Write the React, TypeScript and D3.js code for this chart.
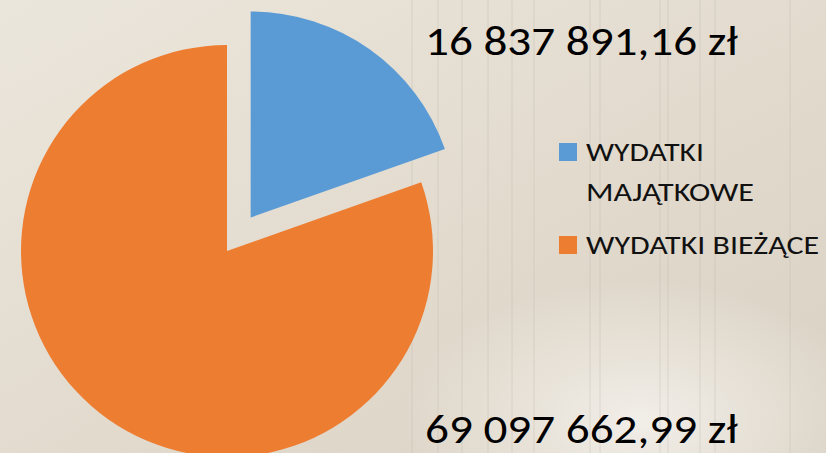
import { useEffect, useRef } from "react";
import * as d3 from "d3";

// wydatki (zł)
const categories = ["WYDATKI MAJĄTKOWE", "WYDATKI BIEŻĄCE"];
const values = [16837891.16, 69097662.99];
const valueLabels = ["16 837 891,16 zł", "69 097 662,99 zł"];
const legendLines = [["WYDATKI", "MAJĄTKOWE"], ["WYDATKI BIEŻĄCE"]];
const colors = ["#5B9BD5", "#ED7D31"];

const W = 826;
const H = 453;

const App = () => {
  const ref = useRef<SVGSVGElement>(null);

  useEffect(() => {
    const svg = d3.select(ref.current);
    svg.selectAll("*").remove();

    const defs = svg.append("defs");
    const bg = defs.append("linearGradient").attr("id", "bg").attr("x1", 0).attr("y1", 0).attr("x2", 1).attr("y2", 1);
    bg.append("stop").attr("offset", "0%").attr("stop-color", "#ebe6dc");
    bg.append("stop").attr("offset", "55%").attr("stop-color", "#e2dacd");
    bg.append("stop").attr("offset", "100%").attr("stop-color", "#d9d1c3");
    const glow = defs.append("radialGradient").attr("id", "glow").attr("cx", 0.5).attr("cy", 0.5).attr("r", 0.5);
    glow.append("stop").attr("offset", "0%").attr("stop-color", "#f4f1ec").attr("stop-opacity", 0.9);
    glow.append("stop").attr("offset", "100%").attr("stop-color", "#f4f1ec").attr("stop-opacity", 0);

    svg.append("rect").attr("width", W).attr("height", H).attr("fill", "url(#bg)");
    svg.append("ellipse").attr("cx", 640).attr("cy", 420).attr("rx", 240).attr("ry", 140).attr("fill", "url(#glow)");

    // faint vertical texture lines
    const lineXs = [412, 438, 462, 488, 512, 534, 590, 600, 660, 668, 700, 715, 790];
    svg.append("g")
      .selectAll("line")
      .data(lineXs)
      .join("line")
      .attr("x1", (d) => d)
      .attr("x2", (d) => d)
      .attr("y1", 0)
      .attr("y2", H)
      .attr("stroke", "#b9b1a5")
      .attr("stroke-opacity", 0.35)
      .attr("stroke-width", 1);

    const cx = 227;
    const cy = 251;
    const r = 206;
    const explode = 41;

    const pie = d3.pie<number>().sort(null).value((d) => d);
    const arcs = pie(values);
    const arc = d3.arc<d3.PieArcDatum<number>>().innerRadius(0).outerRadius(r);

    const g = svg.append("g").attr("transform", `translate(${cx},${cy})`);
    g.selectAll("path")
      .data(arcs)
      .join("path")
      .attr("d", arc)
      .attr("fill", (_, i) => colors[i])
      .attr("transform", (d, i) => {
        if (i !== 0) return null;
        const a = (d.startAngle + d.endAngle) / 2;
        return `translate(${Math.sin(a) * explode},${-Math.cos(a) * explode})`;
      });

    const font = "Carlito, 'Open Sans', 'Noto Sans', sans-serif";

    // value labels
    const labelY = [55, 443];
    svg.append("g")
      .selectAll("text")
      .data(valueLabels)
      .join("text")
      .attr("x", 425)
      .attr("y", (_, i) => labelY[i])
      .attr("font-family", font)
      .attr("font-size", 42)
      .attr("fill", "#000")
      .attr("textLength", 313)
      .attr("lengthAdjust", "spacingAndGlyphs")
      .text((d) => d);

    // legend
    const legY = [143, 236];
    const leg = svg.append("g").selectAll("g").data(categories).join("g");
    leg.append("rect")
      .attr("x", 559)
      .attr("y", (_, i) => legY[i])
      .attr("width", 18)
      .attr("height", 18)
      .attr("fill", (_, i) => colors[i]);
    const lineWidths = [[118, 168], [233]];
    leg.each(function (_, i) {
      const sel = d3.select(this);
      legendLines[i].forEach((t, j) => {
        sel.append("text")
          .attr("x", 586)
          .attr("y", legY[i] + 18 + j * 40)
          .attr("font-family", font)
          .attr("font-size", 26)
          .attr("fill", "#111")
          .attr("textLength", lineWidths[i][j])
          .attr("lengthAdjust", "spacingAndGlyphs")
          .text(t);
      });
    });
  }, []);

  return (
    <svg
      ref={ref}
      width={W}
      height={H}
      style={{ position: "fixed", left: 0, top: 0, display: "block" }}
    ></svg>
  );
};

export default App;
